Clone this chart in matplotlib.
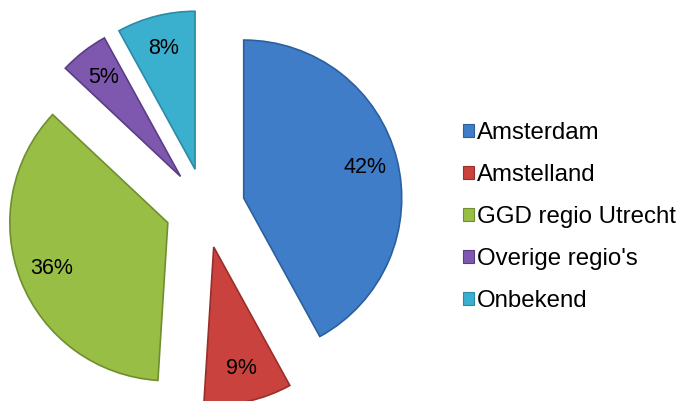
import matplotlib
matplotlib.use("Agg")
import matplotlib.pyplot as plt
from matplotlib.patches import Patch

categories = ["Amsterdam", "Amstelland", "GGD regio Utrecht", "Overige regio's", "Onbekend"]
values = [42, 9, 36, 5, 8]
colors = ["#3F7DC8", "#C9423D", "#98BE45", "#7D58AE", "#3AB0CE"]
edges = ["#2C5F9E", "#9A2E2A", "#6F8F2E", "#5A3E85", "#2A8BA6"]

plt.rcParams['font.family'] = ['Liberation Sans', 'DejaVu Sans']

W, H, dpi = 681, 401, 100
fig = plt.figure(figsize=(W / dpi, H / dpi), dpi=dpi)
ax = fig.add_axes([0, 0, 1, 1])

R = 158.0
cx, cy = 205.0, 401 - 208.0

wedges, texts, autotexts = ax.pie(
    values, colors=colors, startangle=90, counterclock=False,
    explode=[0.253] * len(values), radius=1.0,
    autopct=lambda p: f"{p:.0f}%", pctdistance=0.79,
    wedgeprops=dict(linewidth=1.2),
    textprops=dict(fontsize=15.5, color="black"))
for w, e in zip(wedges, edges):
    w.set_edgecolor(e)

ax.set_xlim(-cx / R, (W - cx) / R)
ax.set_ylim(-cy / R, (H - cy) / R)
ax.set_aspect('equal', adjustable='datalim')
ax.axis('off')

handles = [Patch(facecolor=c, edgecolor=e, linewidth=0.8) for c, e in zip(colors, edges)]
leg = fig.legend(handles, categories, loc='center left',
                 bbox_to_anchor=(463 / W, 1 - 217 / H),
                 frameon=False, fontsize=17.3, handlelength=0.45, handleheight=0.45,
                 handletextpad=0.12, labelspacing=0.84, borderpad=0, borderaxespad=0)

fig.savefig("out.png", dpi=dpi)
